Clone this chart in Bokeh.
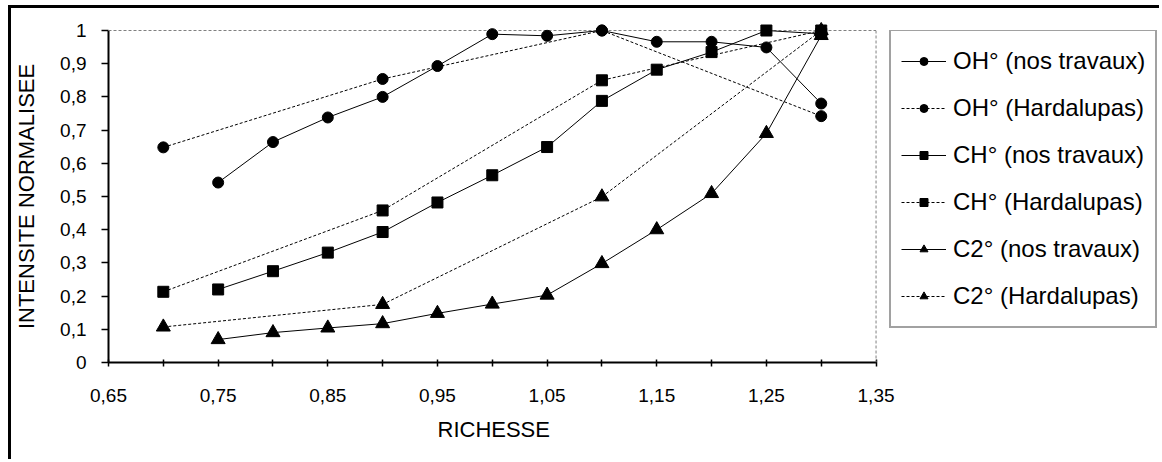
from bokeh.plotting import figure
from bokeh.models import (Range1d, FixedTicker, CustomJSTickFormatter, Span,
                          Legend, LegendItem, Title)
from bokeh.embed import file_html
from bokeh.resources import INLINE

# ---- data ----
x_nos = [0.75, 0.80, 0.85, 0.90, 0.95, 1.00, 1.05, 1.10, 1.15, 1.20, 1.25, 1.30]
x_hard = [0.70, 0.90, 1.10, 1.30]

oh_nos = [0.542, 0.664, 0.738, 0.800, 0.893, 0.989, 0.984, 1.000, 0.966, 0.966, 0.949, 0.780]
oh_hard = [0.648, 0.854, 1.000, 0.742]
ch_nos = [0.220, 0.275, 0.331, 0.393, 0.482, 0.564, 0.649, 0.788, 0.882, 0.935, 1.000, 0.990]
ch_hard = [0.213, 0.458, 0.850, 1.000]
c2_nos = [0.069, 0.090, 0.104, 0.117, 0.148, 0.176, 0.203, 0.298, 0.400, 0.509, 0.690, 0.985]
c2_hard = [0.107, 0.175, 0.499, 1.000]

labels = ["OH° (nos travaux)", "OH° (Hardalupas)", "CH° (nos travaux)",
          "CH° (Hardalupas)", "C2° (nos travaux)", "C2° (Hardalupas)"]

x_ticks = [0.65, 0.70, 0.75, 0.80, 0.85, 0.90, 0.95, 1.00, 1.05, 1.10, 1.15, 1.20, 1.25, 1.30, 1.35]
y_ticks = [0, 0.1, 0.2, 0.3, 0.4, 0.5, 0.6, 0.7, 0.8, 0.9, 1.0]
X_MIN, X_MAX = 0.65, 1.35
Y_MIN, Y_MAX = 0.0, 1.0

FONT = "Liberation Sans"

# plot area of the axes is 769 px wide; the frame is extended to the right
# so that the legend (outside the axes box) sits inside the drawable frame
AXES_W = 769
FRAME_W = 1056
x_end = X_MIN + (X_MAX - X_MIN) * FRAME_W / AXES_W

p = figure(width=1151, height=454, output_backend="svg", toolbar_location=None,
           x_range=Range1d(X_MIN, x_end), y_range=Range1d(Y_MIN, Y_MAX),
           min_border_left=95, min_border_right=0, min_border_top=22, min_border_bottom=100)
p.styles = {"border-left": "3px solid black", "border-top": "3px solid black",
            "margin-top": "5px", "margin-left": "8px"}
p.outline_line_color = None
p.xgrid.visible = False
p.ygrid.visible = False
p.background_fill_color = "white"
p.border_fill_color = "white"

# plot-area decorations: dotted top and right edges
p.segment(x0=[X_MIN], y0=[Y_MAX], x1=[X_MAX], y1=[Y_MAX], line_color="#808080",
          line_dash="3 2", line_width=1, level="annotation")
p.add_layout(Span(location=X_MAX, dimension="height", line_color="#808080",
                  line_dash="3 2", line_width=1))

# axes
xa = p.xaxis[0]
xa.bounds = (X_MIN, X_MAX)
xa.ticker = FixedTicker(ticks=x_ticks)
xa.formatter = CustomJSTickFormatter(code="""
const v = Math.round(tick*100);
if (v % 10 == 5) { return (v/100).toFixed(2).replace('.', ','); }
return '';
""")
ya = p.yaxis[0]
ya.ticker = FixedTicker(ticks=y_ticks)
ya.formatter = CustomJSTickFormatter(code="""
const v = Math.round(tick*10);
if (v == 0) return '0';
if (v == 10) return '1';
return '0,' + v;
""")
ya.axis_label = "INTENSITE NORMALISEE"
for ax in (xa, ya):
    ax.axis_line_color = "black"
    ax.axis_line_width = 2
    ax.major_tick_line_color = "black"
    ax.major_tick_line_width = 1.5
    ax.minor_tick_line_color = None
    ax.major_label_text_font = FONT
    ax.major_label_text_font_size = "19px"
    ax.major_label_text_color = "black"
    ax.axis_label_text_font = FONT
    ax.axis_label_text_font_size = "22px"
    ax.axis_label_text_font_style = "normal"
    ax.axis_label_text_color = "black"
xa.major_tick_in = 3
xa.major_tick_out = 4
xa.major_label_standoff = 22
ya.major_tick_in = 0
ya.major_tick_out = 7
ya.major_label_standoff = 15
ya.axis_label_standoff = 18

# x-axis title, centred under the axes box (not the extended frame)
xtitle = Title(text="RICHESSE", align="left", offset=329, text_font=FONT,
               text_font_size="22px", text_font_style="normal", text_color="black",
               vertical_align="top", standoff=24)
p.add_layout(xtitle, "below")

series = [
    (x_nos, oh_nos, "solid", "circle", 11),
    (x_hard, oh_hard, "3 2", "circle", 11),
    (x_nos, ch_nos, "solid", "square", 11),
    (x_hard, ch_hard, "3 2", "square", 11),
    (x_nos, c2_nos, "solid", "triangle", 14),
    (x_hard, c2_hard, "3 2", "triangle", 14),
]

items = []
for (xs, ys, dash, marker, size), lab in zip(series, labels):
    lr = p.line(xs, ys, line_color="black", line_width=1, line_dash=dash, level="overlay")
    mr = p.scatter(xs, ys, marker=marker, size=size, fill_color="black",
                   line_color="black", level="overlay")
    items.append(LegendItem(label=lab, renderers=[lr, mr]))

legend = Legend(items=items, location=(781, 34))
legend.label_text_font = FONT
legend.label_text_font_size = "24px"
legend.label_text_color = "black"
legend.glyph_width = 45
legend.glyph_height = 20
legend.label_height = 40
legend.label_standoff = 7
legend.padding = 10
legend.spacing = 7
legend.border_line_color = "#444444"
legend.border_line_width = 2
legend.background_fill_color = "white"
legend.background_fill_alpha = 1
p.add_layout(legend, "center")

open("out.html", "w").write(file_html(p, INLINE))
